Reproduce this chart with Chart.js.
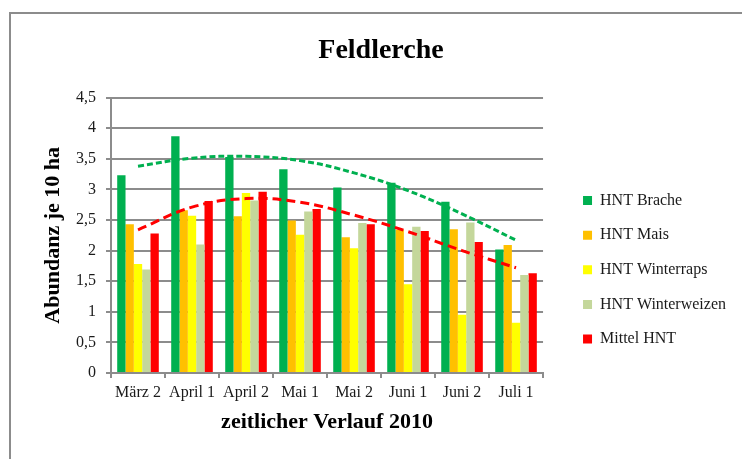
<!DOCTYPE html>
<html>
<head>
<meta charset="utf-8">
<script src="https://cdn.jsdelivr.net/npm/chart.js@4"></script>
<style>
  html, body { margin: 0; padding: 0; background: #fff; overflow: hidden; }
  #wrap { position: relative; width: 742px; height: 459px; }
  #frame { position: absolute; left: 9px; top: 12px; width: 800px; height: 500px; border: 2px solid #8c8c8c; }
  #chart { position: absolute; left: 0; top: 0; }
</style>
</head>
<body>
<div id="wrap">
  <div id="frame"></div>
  <canvas id="chart" width="742" height="459"></canvas>
</div>
<script>
// Feldlerche – Abundanz je 10 ha, HNT Flächen 2010

const categories = ["März 2", "April 1", "April 2", "Mai 1", "Mai 2", "Juni 1", "Juni 2", "Juli 1"];

const brache       = [3.23, 3.87, 3.53, 3.33, 3.03, 3.11, 2.80, 2.02];
const mais         = [2.43, 2.66, 2.56, 2.49, 2.22, 2.34, 2.35, 2.09];
const winterraps   = [1.78, 2.57, 2.94, 2.26, 2.04, 1.45, 0.95, 0.82];
const winterweizen = [1.69, 2.10, 2.82, 2.64, 2.45, 2.39, 2.46, 1.60];
const mittel       = [2.28, 2.81, 2.96, 2.68, 2.43, 2.32, 2.14, 1.63];

// trend lines (at each month)
const trendBrache = [3.38, 3.51, 3.54, 3.47, 3.27, 2.98, 2.60, 2.17];
const trendMittel = [2.34, 2.71, 2.85, 2.79, 2.58, 2.31, 2.00, 1.72];

const yMax = 4.5;
const yStep = 0.5;

const gridGrey = "#8c8c8c";
const textCol = "#1a1a1a";
const serif = "'Liberation Serif', 'DejaVu Serif', serif";

Chart.defaults.font.family = serif;
Chart.defaults.color = textCol;

function barSet(label, data, color) {
  return { type: "bar", label, data, backgroundColor: color, borderWidth: 0 };
}

function trendSet(label, data, color, dash) {
  return {
    type: "line",
    label,
    data,
    borderColor: color,
    borderWidth: 3,
    borderDash: dash,
    pointRadius: 0,
    tension: 0.4,
    fill: false,
    order: -1
  };
}

new Chart(document.getElementById("chart"), {
  data: {
    labels: categories,
    datasets: [
      barSet("HNT Brache", brache, "#00b050"),
      barSet("HNT Mais", mais, "#ffc000"),
      barSet("HNT Winterraps", winterraps, "#ffff00"),
      barSet("HNT Winterweizen", winterweizen, "#c4d79b"),
      barSet("Mittel HNT", mittel, "#ff0000"),
      trendSet("Trend Brache", trendBrache, "#00b050", [6, 3]),
      trendSet("Trend Mittel", trendMittel, "#ff0000", [9, 5])
    ]
  },
  options: {
    responsive: false,
    animation: false,
    layout: { padding: { left: 26, right: 6, top: 0, bottom: 0 } },
    datasets: {
      bar: { barPercentage: 1, categoryPercentage: 0.77 }
    },
    scales: {
      x: {
        grid: { offset: true, drawOnChartArea: false, tickLength: 5, color: gridGrey, lineWidth: 2 },
        border: { color: gridGrey, width: 2 },
        ticks: { font: { size: 16 }, padding: 5, color: textCol, maxRotation: 0 },
        title: {
          display: true,
          text: "zeitlicher Verlauf 2010",
          font: { size: 22, weight: "bold" },
          color: "#000",
          padding: { top: 7, bottom: 23 }
        },
        afterFit: s => { s.height = 86; }
      },
      y: {
        min: 0,
        max: yMax,
        ticks: {
          stepSize: yStep,
          font: { size: 16 },
          padding: 10,
          color: textCol,
          callback: v => String(v).replace(".", ",")
        },
        grid: { color: gridGrey, lineWidth: 2, tickLength: 5 },
        border: { color: gridGrey, width: 2 },
        title: {
          display: true,
          text: "Abundanz je 10 ha",
          font: { size: 22, weight: "bold" },
          color: "#000",
          padding: { top: 14, bottom: 10 }
        },
        afterFit: s => { s.width = 85; }
      },
      // empty spacer between plot and legend
      gap: {
        type: "linear",
        position: "right",
        grid: { display: false },
        border: { display: false },
        ticks: { display: false },
        afterFit: s => { s.width = 21.4; }
      }
    },
    plugins: {
      title: {
        display: true,
        text: "Feldlerche",
        font: { size: 28, weight: "bold" },
        color: "#000",
        padding: { top: 34, bottom: 30 }
      },
      legend: {
        position: "right",
        fullSize: false,
        align: "start",
        maxWidth: 200,
        // blank title only pushes the items down
        title: { display: true, text: "", font: { size: 12 }, padding: { top: 31, bottom: 31 } },
        labels: {
          boxWidth: 9,
          boxHeight: 9,
          padding: 18.6,
          font: { size: 16 },
          color: textCol,
          filter: item => item.datasetIndex < 5
        }
      },
      tooltip: { enabled: false }
    }
  }
});
</script>
</body>
</html>
